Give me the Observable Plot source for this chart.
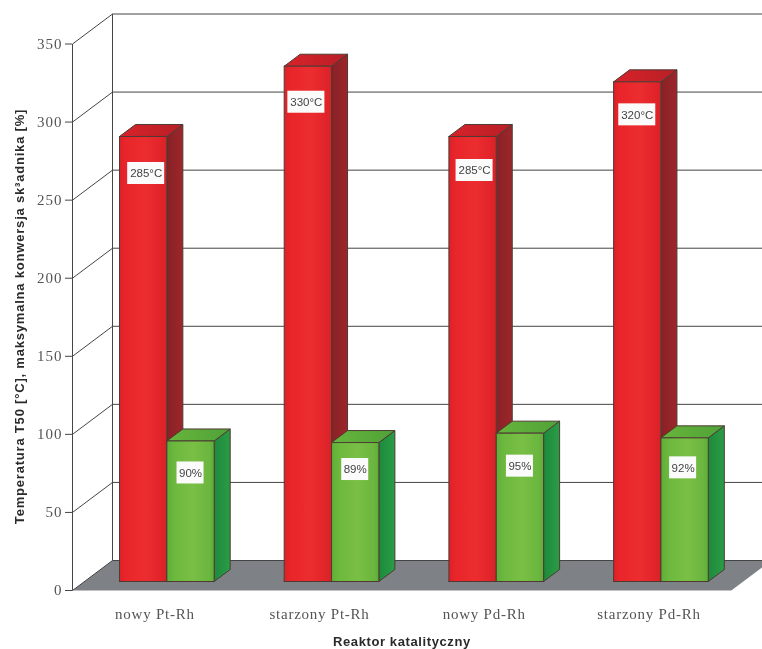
<!DOCTYPE html>
<html>
<head>
<meta charset="utf-8">
<script src="https://cdn.jsdelivr.net/npm/d3@7"></script>
<script src="https://cdn.jsdelivr.net/npm/@observablehq/plot@0.6"></script>
<style>
html,body{margin:0;padding:0;background:#fff;overflow:hidden}
g[aria-label="y-axis tick label"]{letter-spacing:1px}
g[aria-label="x-axis tick label"]{letter-spacing:.75px}
.xtitle{letter-spacing:.6px}
.ytitle{letter-spacing:.8px}
</style>
</head>
<body>
<div id="chart"></div>
<script>
const categories = ["nowy Pt-Rh", "starzony Pt-Rh", "nowy Pd-Rh", "starzony Pd-Rh"];
const temperatures = [285, 330, 285, 320];
const conversions = [90, 89, 95, 92];
const yTicks = [0, 50, 100, 150, 200, 250, 300, 350];
const yTitle = "Temperatura T50 [°C], maksymalna konwersja sk³adnika [%]";
const xTitle = "Reaktor katalityczny";

// layout: the oblique projection, in scale units
const kx = 164.7, ky = (590 - 43.5) / 350;
const DX = 40 / kx, DY = 30 / ky;
const dFront = 0.3, dBack = 0.7;
const barStart = 0.2125, barW = 0.2875;
const P = (x, v, d) => ({x: x + d * DX, y: v + d * DY});

function closed(id, pts) { return [...pts, pts[0]].map(p => ({id, ...p})); }
function frontFace(x0, v) {
  return [P(x0, 0, dFront), P(x0, v, dFront), P(x0 + barW, v, dFront), P(x0 + barW, 0, dFront)];
}
function sideFace(x0, v) {
  const xr = x0 + barW;
  return [P(xr, 0, dFront), P(xr, v, dFront), P(xr, v, dBack), P(xr, 0, dBack)];
}
function topFace(x0, v) {
  const xr = x0 + barW;
  return [P(x0, v, dFront), P(xr, v, dFront), P(xr, v, dBack), P(x0, v, dBack)];
}
function facesOf(values, offset, fn) {
  return values.flatMap((v, i) => closed(`${offset}-${i}`, fn(i + barStart + offset, v)));
}
const faceStyle = {x: "x", y: "y", z: "id", stroke: "#4d3b33", strokeWidth: 1, strokeLinejoin: "round"};
const face = (rows, fill) => Plot.line(rows, {...faceStyle, fill});

function gradient(id, stops) {
  return `<linearGradient id="${id}" x1="0" y1="0" x2="1" y2="0">` +
    stops.map(([o, c]) => `<stop offset="${o}" stop-color="${c}"/>`).join("") + `</linearGradient>`;
}
const defsMark = () => {
  const g = document.createElementNS("http://www.w3.org/2000/svg", "defs");
  g.innerHTML =
    gradient("redFront", [[0, "#dc2127"], [0.12, "#e8252a"], [0.55, "#ec2d30"], [0.85, "#e2252a"], [1, "#d62227"]]) +
    gradient("redSide", [[0, "#862226"], [1, "#9e262a"]]) +
    gradient("redTop", [[0, "#d8222a"], [1, "#b81f26"]]) +
    gradient("greenFront", [[0, "#5fae38"], [0.15, "#6cb83e"], [0.55, "#7abf45"], [0.9, "#6ab63f"], [1, "#5dac39"]]) +
    gradient("greenSide", [[0, "#1d8a3c"], [1, "#2b9c46"]]) +
    gradient("greenTop", [[0, "#68b53c"], [1, "#4fa238"]]);
  return g;
};

// labels: placement of the white boxes on the bars
const labelRows = (values, offset, fmt, drop, nudge, w) => values.map((v, i) => {
  const cx = i + barStart + offset + barW / 2 + dFront * DX + nudge[i] / kx;
  const cy = v + dFront * DY - drop[i] / ky;
  return {cx, cy, text: fmt(v), x1: cx - w / 2 / kx, x2: cx + w / 2 / kx, y1: cy - 11 / ky, y2: cy + 11 / ky};
});
const redLabels = labelRows(temperatures, 0, v => `${v}°C`, [37, 36, 34, 33], [3, -1.5, 2, 0], 37);
const greenLabels = labelRows(conversions, barW, v => `${v}%`, [32, 27, 33, 30], [0, 0, 0, -1.5], 27);
const allLabels = [...redLabels, ...greenLabels];

const floor = closed("floor", [P(0, 0, 0), P(0, 0, 1), P(4, 0, 1), P(4, 0, 0)]);

const plot = Plot.plot({
  width: 762, height: 649,
  marginLeft: 72, marginRight: 762 - 72 - 4 * kx, marginTop: 43.5, marginBottom: 59,
  x: {domain: [0, 4]},
  y: {domain: [0, 350]},
  style: {background: "#fff", overflow: "hidden", filter: "blur(0.45px)"},
  marks: [
    defsMark,
    Plot.line(floor, {x: "x", y: "y", z: "id", fill: "#7e8286", stroke: "none"}),
    Plot.link(yTicks, {x1: () => 0, y1: d => d, x2: () => DX, y2: d => d + DY, stroke: "#454545", strokeWidth: 1}),
    Plot.link(yTicks, {x1: () => DX, y1: d => d + DY, x2: () => 4 + DX, y2: d => d + DY, stroke: "#454545", strokeWidth: 1}),
    Plot.link([0], {x1: () => DX, y1: () => DY, x2: () => DX, y2: () => 350 + DY, stroke: "#454545", strokeWidth: 1}),
    Plot.link([0], {x1: () => 0, y1: () => 0, x2: () => 0, y2: () => 350, stroke: "#454545", strokeWidth: 1}),

    face(facesOf(temperatures, 0, sideFace), "url(#redSide)"),
    face(facesOf(temperatures, 0, topFace), "url(#redTop)"),
    face(facesOf(temperatures, 0, frontFace), "url(#redFront)"),
    face(facesOf(conversions, barW, sideFace), "url(#greenSide)"),
    face(facesOf(conversions, barW, topFace), "url(#greenTop)"),
    face(facesOf(conversions, barW, frontFace), "url(#greenFront)"),

    Plot.rect(allLabels, {x1: "x1", x2: "x2", y1: "y1", y2: "y2", fill: "#fbfbfb"}),
    Plot.text(allLabels, {x: "cx", y: "cy", text: "text", fontFamily: "Liberation Sans", fontSize: 11.5, fill: "#444"}),

    Plot.axisY(yTicks, {tickSize: 7, tickPadding: 3, stroke: "#454545", fill: "#555", fontFamily: "Liberation Serif", fontSize: 15, label: null}),
    Plot.axisX(categories.map((_, i) => i + 0.5), {
      tickSize: 0, tickPadding: 18, fill: "#555", fontFamily: "Liberation Serif", fontSize: 15, label: null,
      tickFormat: d => categories[Math.floor(d)]
    }),
    Plot.text([yTitle], {frameAnchor: "left", textAnchor: "middle", dx: -53, y: () => 175.5, rotate: -90, fontFamily: "Liberation Sans", fontWeight: "bold", fontSize: 13, fill: "#2a2a2a", className: "ytitle"}),
    Plot.text([xTitle], {frameAnchor: "bottom", dy: 55, x: () => 2, fontFamily: "Liberation Sans", fontWeight: "bold", fontSize: 13, fill: "#2a2a2a", className: "xtitle"})
  ]
});
document.getElementById("chart").appendChild(plot);
</script>
</body>
</html>
